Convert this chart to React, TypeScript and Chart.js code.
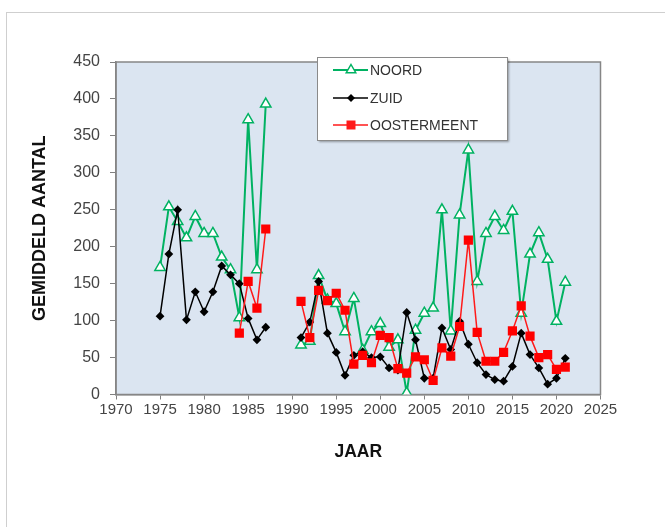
import React, { useEffect, useRef } from "react";
import { Chart, registerables } from "chart.js";

Chart.register(...registerables);

const years = [
  1975, 1976, 1977, 1978, 1979, 1980, 1981, 1982, 1983, 1984, 1985, 1986, 1987,
  1988, 1989, 1990,
  1991, 1992, 1993, 1994, 1995, 1996, 1997, 1998, 1999, 2000, 2001, 2002, 2003,
  2004, 2005, 2006, 2007, 2008, 2009, 2010, 2011, 2012, 2013, 2014, 2015, 2016,
  2017, 2018, 2019, 2020, 2021,
];

const noord: (number | null)[] = [
  172, 254, 234, 212, 241, 218, 218, 186, 169, 104, 372, 169, 393,
  null, null, null,
  67, 72, 161, 128, 123, 85, 130, 60, 85, 96, 64, 74, 2, 87, 110, 117,
  250, 86, 243, 331, 153, 218, 241, 222, 248, 110, 190, 219, 183, 99, 152,
];

const zuid: (number | null)[] = [
  106, 190, 250, 101, 139, 112, 139, 174, 162, 150, 103, 74, 91,
  null, null, null,
  77, 98, 153, 83, 57, 26, 53, 58, 50, 51, 36, 33, 111, 74, 22, 22,
  90, 61, 99, 68, 43, 27, 20, 18, 38, 83, 54, 36, 14, 22, 49,
];

const oostermeent: (number | null)[] = [
  null, null, null, null, null, null, null, null, null, 83, 153, 117, 224,
  null, null, null,
  126, 77, 141, 127, 137, 114, 41, 53, 43, 80, 77, 35, 29, 51, 47, 19,
  63, 52, 92, 209, 84, 45, 45, 57, 86, 120, 79, 50, 54, 34, 37,
];

const seriesNames = ["NOORD", "ZUID", "OOSTERMEENT"];
const xTitle = "JAAR";
const yTitle = "GEMIDDELD AANTAL";

const GREEN = "#00b262";
const RED = "#ff1a1a";
const BLACK = "#000000";
const FONT = "'Liberation Sans', Arial, sans-serif";

const toPoints = (vals: (number | null)[]) =>
  years.map((x, i) => ({ x, y: vals[i] }));

function drawMarker(ctx: CanvasRenderingContext2D, kind: string, x: number, y: number, color: string) {
  ctx.save();
  ctx.beginPath();
  if (kind === "triangle") {
    const r = 5.5;
    ctx.moveTo(x, y - r);
    ctx.lineTo(x + r * 0.866, y + r * 0.5);
    ctx.lineTo(x - r * 0.866, y + r * 0.5);
    ctx.closePath();
    ctx.fillStyle = "#ffffff";
    ctx.fill();
    ctx.strokeStyle = color;
    ctx.lineWidth = 1.5;
    ctx.stroke();
  } else if (kind === "diamond") {
    const r = 4;
    ctx.moveTo(x, y - r);
    ctx.lineTo(x + r, y);
    ctx.lineTo(x, y + r);
    ctx.lineTo(x - r, y);
    ctx.closePath();
    ctx.fillStyle = color;
    ctx.fill();
  } else {
    const s = 4.5;
    ctx.rect(x - s, y - s, 2 * s, 2 * s);
    ctx.fillStyle = color;
    ctx.fill();
  }
  ctx.restore();
}

const plotBgPlugin = {
  id: "plotBg",
  beforeDraw(chart: any) {
    const { ctx, chartArea } = chart;
    ctx.save();
    ctx.fillStyle = "#dbe5f1";
    ctx.fillRect(chartArea.left, chartArea.top, chartArea.right - chartArea.left, chartArea.bottom - chartArea.top);
    ctx.restore();
  },
  beforeDatasetsDraw(chart: any) {
    const { ctx, chartArea } = chart;
    ctx.save();
    ctx.strokeStyle = "#868686";
    ctx.lineWidth = 1.5;
    ctx.strokeRect(chartArea.left, chartArea.top, chartArea.right - chartArea.left, chartArea.bottom - chartArea.top);
    ctx.restore();
  },
};

const legendPlugin = {
  id: "customLegend",
  afterDraw(chart: any) {
    const { ctx, chartArea } = chart;
    const left = chartArea.left + 201;
    const top = chartArea.top - 5;
    const w = 190;
    const h = 83;
    ctx.save();
    ctx.shadowColor = "rgba(0,0,0,0.35)";
    ctx.shadowOffsetX = 2;
    ctx.shadowOffsetY = 2;
    ctx.shadowBlur = 2;
    ctx.fillStyle = "#ffffff";
    ctx.fillRect(left, top, w, h);
    ctx.shadowColor = "transparent";
    ctx.strokeStyle = "#8a8a8a";
    ctx.lineWidth = 1;
    ctx.strokeRect(left + 0.5, top + 0.5, w, h);
    const items = [
      { name: seriesNames[0], color: GREEN, kind: "triangle", lw: 2 },
      { name: seriesNames[1], color: BLACK, kind: "diamond", lw: 1.5 },
      { name: seriesNames[2], color: RED, kind: "square", lw: 1.5 },
    ];
    const rows = [13, 41, 68];
    items.forEach((it, i) => {
      const y = top + rows[i];
      ctx.beginPath();
      ctx.strokeStyle = it.color;
      ctx.lineWidth = it.lw;
      ctx.moveTo(left + 16, y);
      ctx.lineTo(left + 51, y);
      ctx.stroke();
      drawMarker(ctx, it.kind, left + 34, y, it.color);
      ctx.fillStyle = "#333333";
      ctx.font = `14px ${FONT}`;
      ctx.textBaseline = "middle";
      ctx.textAlign = "left";
      ctx.fillText(it.name, left + 53, y + 1);
    });
    ctx.restore();
  },
};

export default function App() {
  const canvasRef = useRef<HTMLCanvasElement | null>(null);

  useEffect(() => {
    const canvas = canvasRef.current;
    if (!canvas) return;
    const chart = new Chart(canvas, {
      type: "line",
      data: {
        datasets: [
          {
            label: seriesNames[0],
            data: toPoints(noord),
            borderColor: GREEN,
            backgroundColor: "#ffffff",
            borderWidth: 2,
            pointStyle: "triangle",
            pointRadius: 6,
            pointBorderWidth: 1.5,
            pointBorderColor: GREEN,
            pointBackgroundColor: "#ffffff",
            spanGaps: false,
            tension: 0,
            order: 3,
          },
          {
            label: seriesNames[1],
            data: toPoints(zuid),
            borderColor: BLACK,
            backgroundColor: BLACK,
            borderWidth: 1.5,
            pointStyle: "rectRot",
            pointRadius: 4.4,
            pointBorderWidth: 0,
            pointBackgroundColor: BLACK,
            spanGaps: false,
            tension: 0,
            order: 2,
          },
          {
            label: seriesNames[2],
            data: toPoints(oostermeent),
            borderColor: RED,
            backgroundColor: "#ff0000",
            borderWidth: 1.5,
            pointStyle: "rect",
            pointRadius: 6.5,
            pointBorderWidth: 0,
            pointBackgroundColor: "#ff0000",
            spanGaps: false,
            tension: 0,
            order: 1,
          },
        ],
      },
      options: {
        responsive: false,
        animation: false,
        layout: { padding: { top: 62, right: 64.5, left: 0, bottom: 0 } },
        plugins: {
          legend: { display: false },
          tooltip: { enabled: false },
        },
        scales: {
          x: {
            type: "linear",
            min: 1970,
            max: 2025,
            afterFit: (s: any) => {
              s.height = 132.5;
            },
            ticks: {
              stepSize: 5,
              color: "#444444",
              font: { size: 15, family: FONT },
              padding: 1,
              maxRotation: 0,
              autoSkip: false,
              callback: (v: any) => String(v),
            },
            grid: {
              drawOnChartArea: false,
              drawTicks: true,
              tickLength: 5,
              color: "#808080",
            },
            border: { display: true, color: "#808080", width: 1.5 },
            title: {
              display: true,
              text: xTitle,
              color: "#111111",
              font: { size: 17.5, weight: "bold", family: FONT },
              padding: { top: 0, bottom: 64 },
            },
          },
          y: {
            min: 0,
            max: 450,
            afterFit: (s: any) => {
              s.width = 116;
            },
            ticks: {
              stepSize: 50,
              color: "#444444",
              font: { size: 16, family: FONT },
              padding: 10,
            },
            grid: {
              drawOnChartArea: false,
              drawTicks: true,
              tickLength: 6,
              color: "#808080",
            },
            border: { display: true, color: "#808080", width: 1.5 },
            title: {
              display: true,
              text: yTitle,
              color: "#111111",
              font: { size: 18, weight: "bold", family: FONT },
              padding: { top: 29, bottom: 0 },
            },
          },
        },
      },
      plugins: [plotBgPlugin, legendPlugin],
    } as any);
    return () => chart.destroy();
  }, []);

  return (
    <div
      style={{
        position: "fixed",
        left: 0,
        top: 0,
        width: 665,
        height: 527,
        overflow: "hidden",
        background: "#ffffff",
      }}
    >
      <div
        style={{
          position: "absolute",
          left: 6,
          top: 12,
          width: 720,
          height: 620,
          border: "1px solid #cfcfcf",
          boxSizing: "border-box",
        }}
      />
      <canvas
        ref={canvasRef}
        width={665}
        height={527}
        style={{ position: "absolute", left: 0, top: 0, width: 665, height: 527 }}
      />
    </div>
  );
}
